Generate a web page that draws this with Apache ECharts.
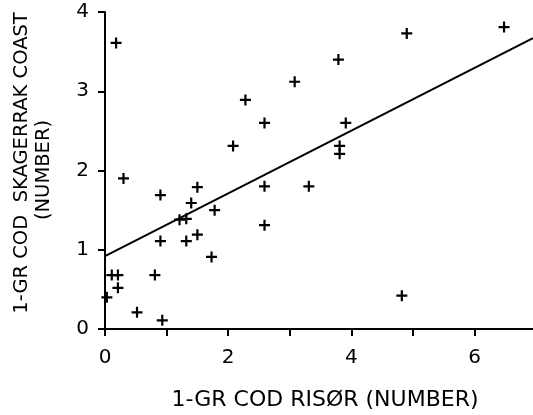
<!DOCTYPE html>
<html>
<head>
<meta charset="utf-8">
<script src="https://cdn.jsdelivr.net/npm/echarts@6/dist/echarts.min.js"></script>
<style>
  html, body { margin: 0; padding: 0; background: #fff; }
  #chart { width: 533px; height: 415px; }
</style>
</head>
<body>
<div id="chart"></div>
<script>
// 1-group cod counts: Risør (x) against the Skagerrak coast (y)
const risor = [0.18, 2.28, 2.59, 2.08, 3.08, 3.79, 4.90, 6.48, 3.91, 3.81, 3.81, 3.31, 4.82,
               0.30, 0.90, 1.50, 1.40, 1.78, 1.21, 1.32, 0.90, 1.32, 1.50, 1.73, 2.59, 2.59,
               0.11, 0.21, 0.21, 0.81, 0.03, 0.52, 0.93];
const skagerrak = [3.61, 2.89, 2.60, 2.31, 3.12, 3.40, 3.73, 3.81, 2.60, 2.31, 2.21, 1.80, 0.42,
                   1.90, 1.69, 1.79, 1.59, 1.50, 1.38, 1.39, 1.11, 1.11, 1.19, 0.91, 1.80, 1.31,
                   0.68, 0.68, 0.52, 0.68, 0.40, 0.21, 0.11];

// fitted regression line end points
const fitX = [0, 6.95];
const fitY = [0.92, 3.67];

// axis ticks and labels
const xTickValues = [0, 1, 2, 3, 4, 5, 6];
const xLabelValues = [0, 2, 4, 6];
const yTickValues = [0, 1, 2, 3, 4];

const xTitle = '1-GR COD RISØR (NUMBER)';
const yTitleLines = ['1-GR COD  SKAGERRAK COAST', '(NUMBER)'];

const points = risor.map((x, i) => [x, skagerrak[i]]);
const fitLine = fitX.map((x, i) => [x, fitY[i]]);

const FONT = 'DejaVu Sans';
const plus = 'path://M4,0H6V4H10V6H6V10H4V6H0V4H4Z';

const yTitleStyle = (text) => ({
  text: text,
  fill: '#000',
  font: '19.5px "DejaVu Sans"',
  align: 'center',
  verticalAlign: 'middle'
});

const chart = echarts.init(document.getElementById('chart'), null, { renderer: 'canvas' });
chart.setOption({
  animation: false,
  backgroundColor: '#ffffff',
  grid: { left: 105, top: 12, right: 0, bottom: 86, outerBoundsMode: 'none', containLabel: false },
  graphic: [
    { type: 'text', x: 22, y: 163, rotation: Math.PI / 2, style: yTitleStyle(yTitleLines[0]) },
    { type: 'text', x: 44, y: 170, rotation: Math.PI / 2, style: yTitleStyle(yTitleLines[1]) }
  ],
  xAxis: {
    type: 'value',
    min: 0,
    max: 6.95,
    name: xTitle,
    nameLocation: 'middle',
    nameGap: 60,
    nameTextStyle: { color: '#000', fontFamily: FONT, fontSize: 22, padding: [0, 0, 0, 12] },
    axisLine: { show: true, lineStyle: { color: '#000', width: 2 } },
    axisTick: { show: true, length: 7, lineStyle: { color: '#000', width: 2 }, customValues: xTickValues },
    axisLabel: { color: '#000', fontFamily: FONT, fontSize: 20, margin: 19, customValues: xLabelValues },
    splitLine: { show: false }
  },
  yAxis: {
    type: 'value',
    min: 0,
    max: 4,
    interval: 1,
    axisLine: { show: true, lineStyle: { color: '#000', width: 2 } },
    axisTick: { show: true, length: 7, lineStyle: { color: '#000', width: 2 }, customValues: yTickValues },
    axisLabel: { color: '#000', fontFamily: FONT, fontSize: 20, margin: 16 },
    splitLine: { show: false }
  },
  series: [
    {
      type: 'scatter',
      data: points,
      symbol: plus,
      symbolSize: 11,
      itemStyle: { color: '#000', opacity: 1 },
      clip: false
    },
    {
      type: 'line',
      data: fitLine,
      showSymbol: false,
      lineStyle: { color: '#000', width: 2 },
      clip: false
    }
  ]
});
</script>
</body>
</html>
